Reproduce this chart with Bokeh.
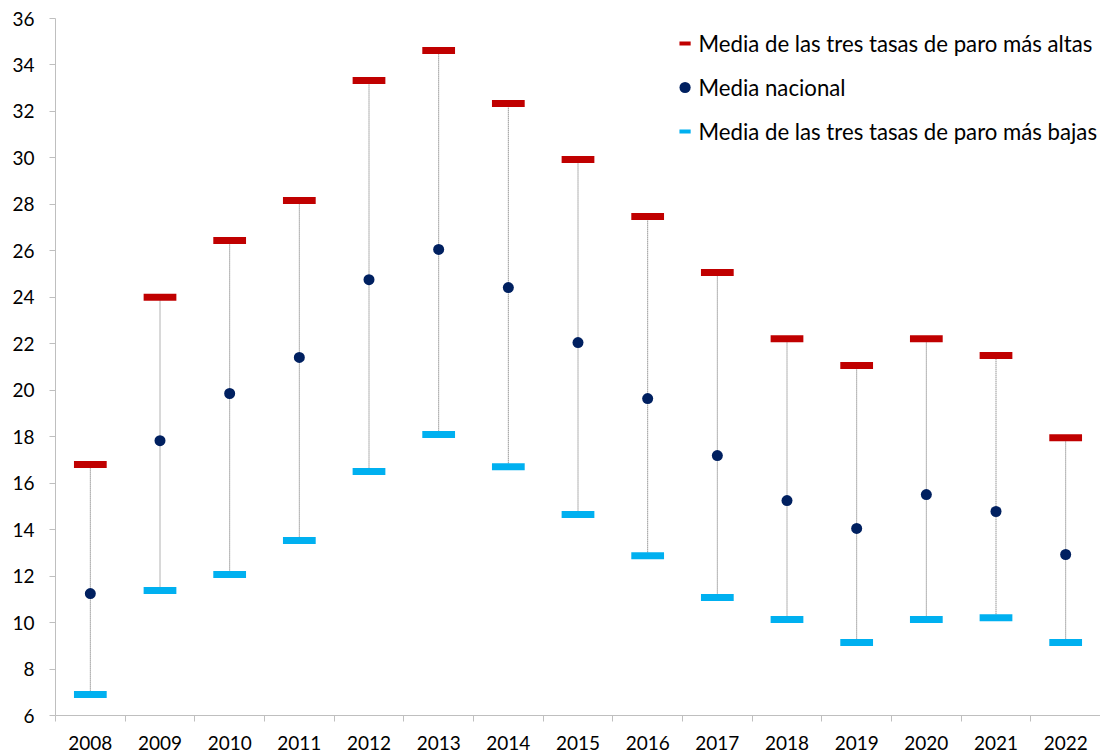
from bokeh.plotting import figure
from bokeh.models import (ColumnDataSource, FixedTicker, Range1d, Legend, LegendItem)
from bokeh.embed import file_html
from bokeh.resources import INLINE

years = ["2008", "2009", "2010", "2011", "2012", "2013", "2014", "2015",
         "2016", "2017", "2018", "2019", "2020", "2021", "2022"]
high = [16.8, 24.0, 26.45, 28.17, 33.33, 34.62, 32.34, 29.93, 27.48, 25.07,
        22.22, 21.06, 22.22, 21.49, 17.96]
national = [11.25, 17.83, 19.86, 21.41, 24.76, 26.06, 24.42, 22.05, 19.64,
            17.19, 15.25, 14.05, 15.51, 14.78, 12.93]
low = [6.9, 11.38, 12.07, 13.53, 16.5, 18.09, 16.71, 14.65, 12.88, 11.08,
       10.13, 9.14, 10.13, 10.21, 9.14]
y_ticks = [6, 8, 10, 12, 14, 16, 18, 20, 22, 24, 26, 28, 30, 32, 34, 36]

label_high = "Media de las tres tasas de paro más altas"
label_nat = "Media nacional"
label_low = "Media de las tres tasas de paro más bajas"

RED = "#C00000"
NAVY = "#002060"
CYAN = "#00B0F0"
AXIS = "#BFBFBF"
FONT = "Lato"

xs = list(range(len(years)))
src = ColumnDataSource(dict(x=xs, high=high, nat=national, low=low))

p = figure(width=1100, height=752, output_backend="svg", toolbar_location=None,
           x_range=Range1d(-0.5, len(years) - 0.5), y_range=Range1d(6, 36),
           min_border_left=55, min_border_right=0, min_border_top=18,
           min_border_bottom=37, frame_width=1045, frame_height=697)
p.outline_line_color = None
p.xgrid.grid_line_color = None
p.ygrid.grid_line_color = None

p.segment(x0="x", y0="low", x1="x", y1="high", source=src,
          line_color="#666666", line_width=1, line_dash="1 1")
p.rect(x="x", y="high", width=0.47, height=7, height_units="screen",
       source=src, fill_color=RED, line_color=None)
p.rect(x="x", y="low", width=0.47, height=7, height_units="screen",
       source=src, fill_color=CYAN, line_color=None)
p.scatter(x="x", y="nat", size=11, source=src, fill_color=NAVY, line_color=None)

# legend-only renderers (no visible data)
nan = float("nan")
empty = ColumnDataSource(dict(x=[nan], y=[nan]))
r_hi = p.scatter(x="x", y="y", source=empty, marker="dash", line_color=RED, line_width=4)
r_nat = p.scatter(x="x", y="y", source=empty, fill_color=NAVY, line_color=None)
r_lo = p.scatter(x="x", y="y", source=empty, marker="dash", line_color=CYAN, line_width=4)

legend = Legend(items=[LegendItem(label=label_high, renderers=[r_hi]),
                       LegendItem(label=label_nat, renderers=[r_nat]),
                       LegendItem(label=label_low, renderers=[r_lo])],
                location="top_right", border_line_color=None,
                background_fill_alpha=0, glyph_width=28, glyph_height=44,
                label_height=44, spacing=-1, padding=7, margin=3,
                label_standoff=0, label_text_font=FONT,
                label_text_font_size="22.2px", label_text_color="#000000")
p.add_layout(legend)

# axes
p.xaxis.ticker = FixedTicker(ticks=xs, minor_ticks=[i - 0.5 for i in range(len(years) + 1)])
p.xaxis.major_label_overrides = {i: y for i, y in enumerate(years)}
p.xaxis.major_tick_out = 0
p.xaxis.major_tick_in = 0
p.xaxis.minor_tick_line_color = AXIS
p.xaxis.minor_tick_out = 6
p.xaxis.minor_tick_in = 0
p.xaxis.major_label_standoff = 14

p.yaxis.ticker = FixedTicker(ticks=y_ticks, minor_ticks=[])
p.yaxis.major_tick_out = 6
p.yaxis.major_tick_in = 0
p.yaxis.major_label_standoff = 15

for ax in (p.xaxis[0], p.yaxis[0]):
    ax.axis_line_color = AXIS
    ax.axis_line_width = 1
    ax.major_tick_line_color = AXIS if ax is p.yaxis[0] else None
    ax.major_label_text_font = FONT
    ax.major_label_text_font_size = "19px"
    ax.major_label_text_color = "#000000"

open("out.html", "w").write(file_html(p, INLINE))
